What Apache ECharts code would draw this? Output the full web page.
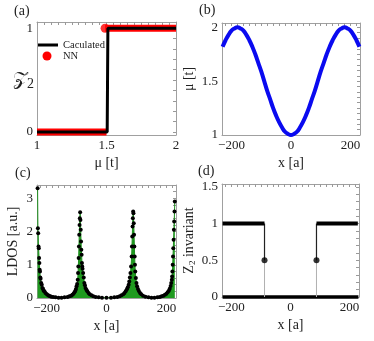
<!DOCTYPE html>
<html>
<head>
<meta charset="utf-8">
<script src="https://cdn.jsdelivr.net/npm/echarts@6/dist/echarts.min.js"></script>
<style>
  html, body { margin: 0; padding: 0; background: #fff; }
  #chart-container { width: 374px; height: 341px; }
</style>
</head>
<body>
<div id="chart-container"></div>
<script>
// (a) Z2 vs mu
var calcLine = [[1, 0], [1.505, 0], [1.51, 1], [2, 1]];
var nnLow = [[1, 0], [1.5, 0]];
var nnHigh = [[1.49, 1], [2, 1]];
var nnDot = [[1.49, 1]];

// (b) mu(x)
var muX = [-230, -220, -210, -200, -190, -180, -170, -160, -150, -140, -130, -120, -110, -100, -90, -80, -70, -60, -50, -40, -30, -20, -10,
  0, 10, 20, 30, 40, 50, 60, 70, 80, 90, 100, 110, 120, 130, 140, 150, 160, 170, 180, 190, 200, 210, 220, 230];
var muY = [1.82, 1.88, 1.93, 1.97, 1.99, 2.0, 1.99, 1.97, 1.93, 1.88, 1.82, 1.75, 1.67, 1.59, 1.5, 1.41, 1.33, 1.25, 1.18, 1.12, 1.07, 1.03, 1.01,
  1.0, 1.01, 1.03, 1.07, 1.12, 1.18, 1.25, 1.33, 1.41, 1.5, 1.59, 1.67, 1.75, 1.82, 1.88, 1.93, 1.97, 1.99, 2.0, 1.99, 1.97, 1.93, 1.88, 1.82];

// (c) LDOS
var ldosX = [-230, -229, -228, -227, -226, -225, -224, -223, -222, -221, -220, -218, -216, -214, -212, -210, -207, -204, -200, -196, -192, -188, -184, -178, -170, -160, -150, -140, -130, -124, -118, -114, -110, -107, -104, -102, -100, -98, -96, -95, -94, -93, -92, -91, -90, -89, -88, -87, -86, -85, -84, -83, -82, -81, -80, -78, -76, -74, -72, -70, -67, -64, -60, -56, -50, -44, -36, -26, -15,
  0, 15, 26, 36, 44, 50, 56, 60, 64, 68, 71, 74, 76, 78, 80, 82, 84, 85, 86, 87, 88, 89, 90, 91, 92, 93, 94, 95, 96, 98, 100, 102, 105, 108, 112, 116, 122, 130, 140, 150, 160, 170, 178, 184, 190, 195, 200, 204, 208, 211, 214, 216, 218, 219, 220, 221, 222, 223, 224, 225, 226, 227, 228];
var ldosY = [3.3, 2.1, 1.95, 1.55, 1.5, 1.2, 1.05, 0.85, 0.8, 0.62, 0.58, 0.45, 0.4, 0.3, 0.28, 0.22, 0.2, 0.15, 0.12, 0.09, 0.07, 0.05, 0.04, 0.03, 0.02, 0.01, 0.01, 0.02, 0.03, 0.05, 0.07, 0.1, 0.13, 0.17, 0.22, 0.27, 0.35, 0.42, 0.55, 0.75, 0.95, 1.2, 1.55, 1.9, 2.2, 2.4, 2.58, 2.35, 2.05, 1.7, 1.45, 1.3, 1.05, 0.95, 0.88, 0.75, 0.62, 0.45, 0.38, 0.3, 0.25, 0.2, 0.15, 0.11, 0.08, 0.05, 0.03, 0.02, 0.01,
  0.01, 0.01, 0.02, 0.03, 0.05, 0.08, 0.11, 0.15, 0.2, 0.26, 0.32, 0.4, 0.5, 0.62, 0.75, 0.95, 1.25, 1.55, 1.85, 2.15, 2.4, 2.6, 2.55, 2.25, 1.9, 1.55, 1.25, 1.0, 0.8, 0.6, 0.45, 0.35, 0.27, 0.21, 0.15, 0.11, 0.07, 0.04, 0.02, 0.01, 0.01, 0.02, 0.03, 0.05, 0.07, 0.1, 0.13, 0.17, 0.22, 0.28, 0.36, 0.45, 0.55, 0.65, 0.8, 1.0, 1.25, 1.5, 1.75, 2.05, 2.3, 2.6, 2.9];

// (d) Z2 invariant along x
var z2LeftHigh = [[-230, 1], [-88, 1]];
var z2LeftStep = [[-88, 1], [-88, 0.5]];
var z2LeftDrop = [[-88, 0.5], [-88, 0]];
var z2RightHigh = [[88, 1], [228, 1]];
var z2RightStep = [[88, 1], [88, 0.5]];
var z2RightDrop = [[88, 0.5], [88, 0]];
var z2Half = [[-88, 0.5], [88, 0.5]];
var z2Zero = [[-230, 0], [230, 0]];

var font = "'Liberation Serif', 'DejaVu Serif', serif";
var frameColor = "#a0a0a0";

function range(a, b, s) {
  var out = [];
  for (var v = a; v <= b + 1e-9; v += s) out.push(Math.round(v * 1000) / 1000);
  return out;
}
function fmt(v) {
  return v < 0 ? "\u2212" + (-v) : String(v);
}

var xAxes = [];
var yAxes = [];

// two axes per grid and direction: labelled side, and far-side frame with small ticks
function addFrame(g, xr, yr, xTicks, yTicks, xMinor, yMinor, xName, yName, yGap) {
  var tickStyle = { color: "#999" };
  xAxes.push({
    gridIndex: g, type: "value", position: "bottom", min: xr[0], max: xr[1],
    axisLine: { show: true, onZero: false, lineStyle: { color: frameColor } },
    axisTick: { show: false },
    axisLabel: { customValues: xTicks, formatter: fmt, fontFamily: font, fontSize: 13, color: "#222", margin: 4 },
    splitLine: { show: false },
    name: xName, nameLocation: "middle", nameGap: 21,
    nameTextStyle: { fontFamily: font, fontSize: 14, color: "#222" }
  });
  xAxes.push({
    gridIndex: g, type: "value", position: "top", min: xr[0], max: xr[1],
    axisLine: { show: true, onZero: false, lineStyle: { color: frameColor } },
    axisLabel: { show: false }, splitLine: { show: false },
    axisTick: { show: true, inside: true, length: 3, customValues: xMinor, lineStyle: tickStyle }
  });
  yAxes.push({
    gridIndex: g, type: "value", position: "left", min: yr[0], max: yr[1],
    axisLine: { show: true, onZero: false, lineStyle: { color: frameColor } },
    axisTick: { show: false },
    axisLabel: { customValues: yTicks, formatter: fmt, fontFamily: font, fontSize: 13, color: "#222", margin: 4 },
    splitLine: { show: false },
    name: yName, nameLocation: "middle", nameGap: yGap, nameRotate: 90,
    nameTextStyle: {
      fontFamily: font, fontSize: 14, color: "#222",
      rich: { n: { fontFamily: font, fontSize: 14, color: "#222" }, s: { fontFamily: font, fontSize: 9, color: "#222", padding: [6, 0, 0, 0] } }
    }
  });
  yAxes.push({
    gridIndex: g, type: "value", position: "right", min: yr[0], max: yr[1],
    axisLine: { show: true, onZero: false, lineStyle: { color: frameColor } },
    axisLabel: { show: false }, splitLine: { show: false },
    axisTick: { show: true, inside: true, length: 3, customValues: yMinor, lineStyle: tickStyle }
  });
}

var grids = [
  { left: 37, top: 22, width: 139, height: 113 },
  { left: 222, top: 23, width: 138, height: 112 },
  { left: 37, top: 185, width: 139, height: 113 },
  { left: 222, top: 184, width: 137, height: 113 }
];
var xSpan = [-232, 232];
var posMinor = range(-220, 220, 20);

addFrame(0, [1, 2], [-0.03, 1.06], [1, 1.5, 2], [0, 1], range(1, 2, 0.05), range(0, 1, 0.1),
  "\u03bc [t]", "", 0);
addFrame(1, xSpan, [1, 2.04], [-200, 0, 200], [1, 1.5, 2], posMinor, range(1, 2, 0.05),
  "x [a]", "\u03bc [t]", 26);
addFrame(2, xSpan, [0, 3.4], [-200, 0, 200], [0, 1, 2, 3], posMinor, range(0, 3.4, 0.2),
  "x [a]", "LDOS [a.u.]", 17);
addFrame(3, xSpan, [0, 1.54], [-200, 0, 200], [0, 0.5, 1, 1.5], posMinor, range(0, 1.5, 0.1),
  "x [a]", "{n|Z}{s|2}{n| invariant}", 25);

function seg(g, data, color, width, extra) {
  var s = {
    type: "line", xAxisIndex: 2 * g, yAxisIndex: 2 * g, data: data,
    symbol: "none", clip: false, silent: true, animation: false,
    lineStyle: { color: color, width: width }
  };
  for (var k in extra) s[k] = extra[k];
  return s;
}

var ldosData = ldosX.map(function (x, i) { return [x, ldosY[i]]; });
var muData = muX.map(function (x, i) { return [x, muY[i]]; });

var dom = document.getElementById("chart-container");
var myChart = echarts.init(dom, null, { renderer: "canvas" });

var option = {
  animation: false,
  grid: grids,
  xAxis: xAxes,
  yAxis: yAxes,
  graphic: [
    { type: "text", left: 14, top: 4, style: { text: "(a)", font: "14px " + font, fill: "#222" } },
    { type: "text", left: 199, top: 3, style: { text: "(b)", font: "14px " + font, fill: "#222" } },
    { type: "text", left: 15, top: 166, style: { text: "(c)", font: "14px " + font, fill: "#222" } },
    { type: "text", left: 198, top: 164, style: { text: "(d)", font: "14px " + font, fill: "#222" } },
    {
      type: "text", x: 13, y: 70,
      style: {
        text: "{z|\ud835\udcb5}{s|2}",
        rich: { z: { fontFamily: font, fontSize: 19, fill: "#222" }, s: { fontFamily: font, fontSize: 14, fill: "#222", padding: [7, 0, 0, 0] } }
      }
    },
    { type: "line", shape: { x1: 37, y1: 45, x2: 58, y2: 45 }, style: { stroke: "#000", lineWidth: 3 } },
    { type: "circle", shape: { cx: 47, cy: 56, r: 4.5 }, style: { fill: "#ff0000" } },
    { type: "text", x: 63, y: 45, style: { text: "Caculated", font: "10.5px " + font, fill: "#222", verticalAlign: "middle" } },
    { type: "text", x: 63, y: 56, style: { text: "NN", font: "10.5px " + font, fill: "#222", verticalAlign: "middle" } }
  ],
  series: [
    seg(0, nnLow, "#ff0000", 7),
    seg(0, nnHigh, "#ff0000", 7),
    {
      type: "scatter", xAxisIndex: 0, yAxisIndex: 0, data: nnDot, symbolSize: 9,
      itemStyle: { color: "#ff0000" }, silent: true, animation: false
    },
    seg(0, calcLine, "#000", 3),

    seg(1, muData, "#0a0af0", 4, { smooth: true }),

    {
      type: "line", xAxisIndex: 4, yAxisIndex: 4, data: ldosData,
      symbol: "circle", symbolSize: 4, showAllSymbol: true,
      itemStyle: { color: "#000" },
      lineStyle: { color: "#1f8f1f", width: 1 },
      areaStyle: { color: "#1f9a1f", opacity: 1 },
      silent: true, animation: false
    },

    seg(3, z2Zero, "#000", 3.5),
    seg(3, z2LeftDrop, "#b0b0b0", 1),
    seg(3, z2RightDrop, "#b0b0b0", 1),
    seg(3, z2LeftStep, "#222", 1.2),
    seg(3, z2RightStep, "#222", 1.2),
    seg(3, z2LeftHigh, "#000", 4),
    seg(3, z2RightHigh, "#000", 4),
    {
      type: "scatter", xAxisIndex: 6, yAxisIndex: 6, data: z2Half, symbolSize: 6, z: 10,
      itemStyle: { color: "#000", borderWidth: 0 }, silent: true, animation: false
    }
  ]
};

myChart.setOption(option);
window.addEventListener("resize", myChart.resize);
</script>
</body>
</html>
